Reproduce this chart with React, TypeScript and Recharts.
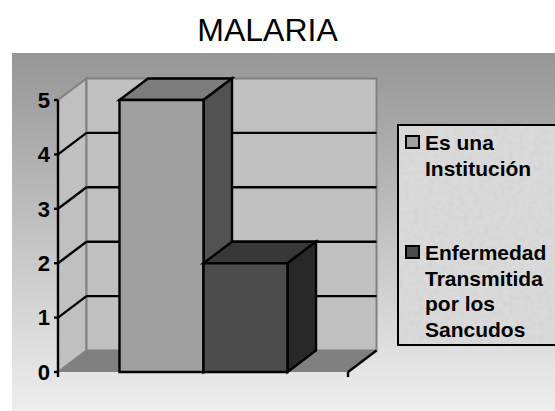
import React from 'react';
import { BarChart, Bar, XAxis, YAxis, CartesianGrid, Legend, Rectangle } from 'recharts';

const categories = ['Malaria'];
const institucionValues = [5];
const enfermedadValues = [2];
const yTicks = [0, 1, 2, 3, 4, 5];

const seriesNames = ['Es una Institución', 'Enfermedad Transmitida por los Sancudos'];

const chartData = categories.map((name, i) => ({
  name,
  institucion: institucionValues[i],
  enfermedad: enfermedadValues[i],
}));

// plot box in page pixels, the chart margins below come from these
const LEFT = 58;
const RIGHT = 348;
const TOP = 100;
const BOTTOM = 372;
// depth of the fake 3d box
const DX = 28.5;
const DY = 21.5;
const LINE = 2.4;
const FONT = '"Liberation Sans", Arial, sans-serif';

const noise = `url("data:image/svg+xml,%3Csvg xmlns='http://www.w3.org/2000/svg' width='160' height='224'%3E%3Cfilter id='n'%3E%3CfeTurbulence type='fractalNoise' baseFrequency='0.2' numOctaves='3' seed='4'/%3E%3CfeColorMatrix values='0 0 0 0 0.65 0 0 0 0 0.65 0 0 0 0 0.65 0 0 0 1.8 -0.72'/%3E%3C/filter%3E%3Crect width='160' height='224' filter='url(%23n)'/%3E%3C/svg%3E")`;

const pts = (list: number[][]) => list.map(p => p.join(',')).join(' ');

// back wall, side wall and floor sit behind the chart svg
const Walls = () => (
  <svg width={555} height={411} style={{ position: 'absolute', left: 0, top: 0 }}>
    <polygon points={pts([[LEFT, TOP], [LEFT + DX, TOP - DY], [LEFT + DX, BOTTOM - DY], [LEFT, BOTTOM]])} fill="#c0c0c0" stroke="#808080" strokeWidth={2} />
    <rect x={LEFT + DX} y={TOP - DY} width={RIGHT - LEFT} height={BOTTOM - TOP} fill="#c0c0c0" stroke="#808080" strokeWidth={2} />
    <polygon points={pts([[LEFT, BOTTOM], [LEFT + DX, BOTTOM - DY], [RIGHT + DX, BOTTOM - DY], [RIGHT, BOTTOM]])} fill="#808080" />
    <line x1={RIGHT} y1={BOTTOM} x2={RIGHT + DX} y2={BOTTOM - DY} stroke="#000" strokeWidth={LINE} />
    <line x1={LEFT} y1={BOTTOM} x2={LEFT} y2={BOTTOM + 5} stroke="#000" strokeWidth={LINE} />
    <line x1={RIGHT} y1={BOTTOM} x2={RIGHT} y2={BOTTOM + 5} stroke="#000" strokeWidth={LINE} />
  </svg>
);

const gridLine = (props: any) => {
  const { x1, x2, y1, key } = props;
  if (y1 < TOP + 5 || y1 > BOTTOM - 5) return <g key={key} />;
  return (
    <g key={key}>
      <line x1={x1} y1={y1} x2={x1 + DX} y2={y1 - DY} stroke="#000" strokeWidth={LINE} />
      <line x1={x1 + DX} y1={y1 - DY} x2={x2 + DX} y2={y1 - DY} stroke="#000" strokeWidth={LINE} />
    </g>
  );
};

const box3d = (topFill: string, sideFill: string) => (props: any) => {
  const { x, y, width, height, fill } = props;
  return (
    <g stroke="#000" strokeWidth={LINE} strokeLinejoin="miter">
      <polygon points={pts([[x, y], [x + DX, y - DY], [x + width + DX, y - DY], [x + width, y]])} fill={topFill} />
      <polygon points={pts([[x + width, y], [x + width + DX, y - DY], [x + width + DX, y + height - DY], [x + width, y + height]])} fill={sideFill} />
      <Rectangle x={x} y={y} width={width} height={height} fill={fill} stroke="#000" strokeWidth={LINE} />
    </g>
  );
};

const renderLegend = (props: any) => (
  <div style={{ width: 160, height: 222, boxSizing: 'border-box', border: '2px solid #000', background: `${noise}, #dadada`, fontFamily: FONT, fontWeight: 'bold', fontSize: 21, lineHeight: '25.7px', color: '#000' }}>
    {props.payload.map((item: any, i: number) => (
      <div key={item.value} style={{ position: 'absolute', left: 7.5, top: i === 0 ? 6 : 116, display: 'flex', width: 150 }}>
        <span style={{ flex: 'none', width: 11, height: 10, border: '2px solid #000', background: item.color, marginTop: 5, marginRight: 5.5 }} />
        <span style={{ width: 128 }}>{item.value}</span>
      </div>
    ))}
  </div>
);

export default function App() {
  return (
    <div style={{ position: 'absolute', left: 0, top: 0, width: 555, height: 411, overflow: 'hidden', background: '#fff' }}>
      <div style={{ position: 'absolute', left: 0, top: 12, width: 535, textAlign: 'center', fontFamily: FONT, fontSize: 32, lineHeight: '36px', color: '#000' }}>MALARIA</div>
      <div style={{ position: 'absolute', left: 12, top: 53, width: 543, height: 358, background: 'linear-gradient(#969696, #eeeeee)' }} />
      <Walls />
      <div style={{ position: 'absolute', left: 0, top: 0 }}>
        <BarChart width={555} height={411} data={chartData} margin={{ top: TOP, right: 555 - RIGHT, bottom: 411 - BOTTOM, left: 0 }} barGap={0} barCategoryGap={61.5}>
          <CartesianGrid horizontal={gridLine} vertical={false} />
          <XAxis dataKey="name" tick={false} tickLine={false} height={0} axisLine={{ stroke: '#000', strokeWidth: LINE }} />
          <YAxis
            width={LEFT}
            domain={[0, 5]}
            ticks={yTicks}
            interval={0}
            tickSize={4}
            tickMargin={4}
            axisLine={{ stroke: '#000', strokeWidth: LINE }}
            tickLine={{ stroke: '#000', strokeWidth: LINE }}
            tick={{ fill: '#000', fontFamily: FONT, fontWeight: 'bold', fontSize: 22 }}
          />
          <Legend layout="vertical" align="center" verticalAlign="middle" itemSorter={null} content={renderLegend} wrapperStyle={{ left: 397, top: 124, width: 160, height: 222 }} />
          <Bar dataKey="institucion" name={seriesNames[0]} fill="#a0a0a0" isAnimationActive={false} shape={box3d('#7c7c7c', '#525252')} />
          <Bar dataKey="enfermedad" name={seriesNames[1]} fill="#4c4c4c" isAnimationActive={false} shape={box3d('#383838', '#282828')} />
        </BarChart>
      </div>
    </div>
  );
}
